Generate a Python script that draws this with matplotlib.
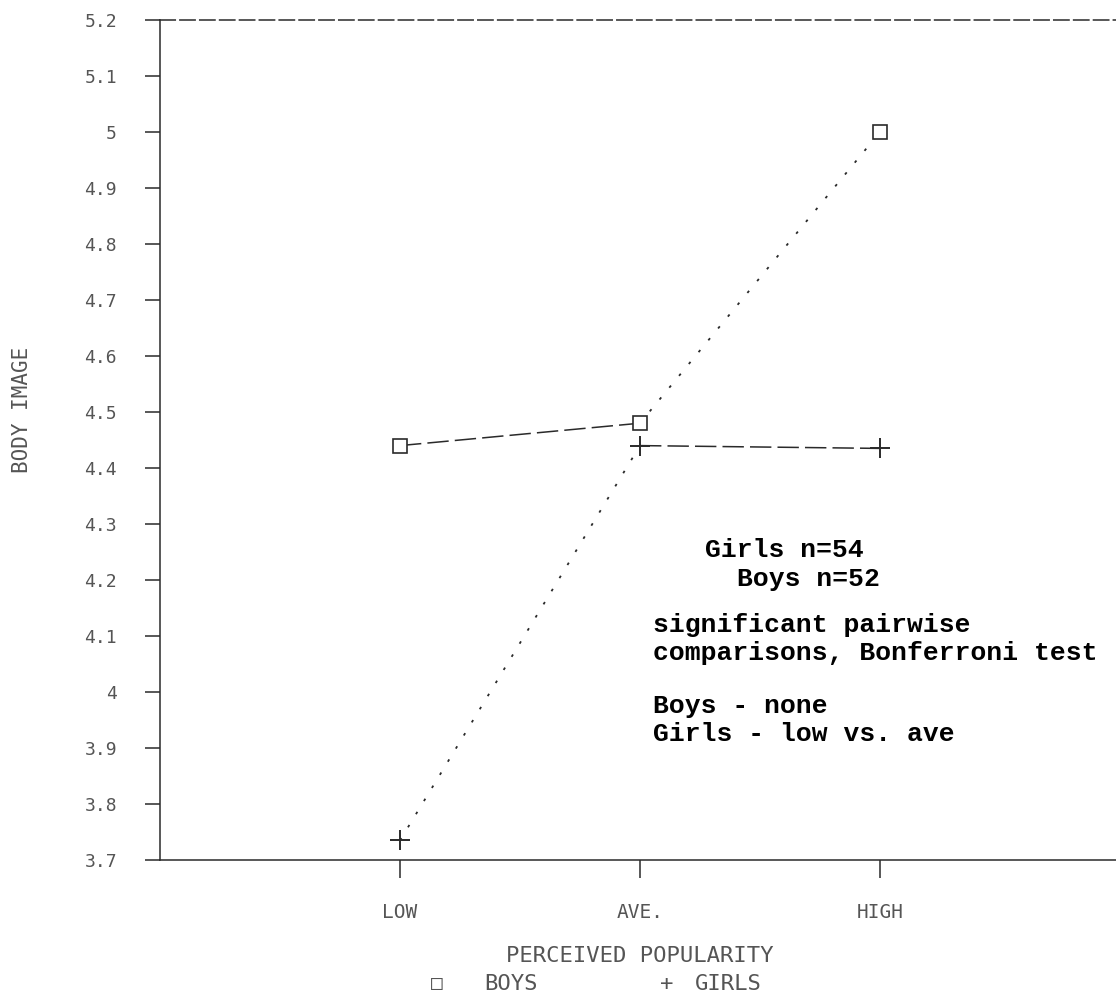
import matplotlib
matplotlib.use("Agg")
import matplotlib.pyplot as plt

categories = ["LOW", "AVE.", "HIGH"]
boys = [4.44, 4.48, 5.00]
girls = [3.735, 4.44, 4.435]
y_ticks = [3.7, 3.8, 3.9, 4.0, 4.1, 4.2, 4.3, 4.4, 4.5, 4.6, 4.7, 4.8, 4.9, 5.0, 5.1, 5.2]
y_labels = ["3.7", "3.8", "3.9", "4", "4.1", "4.2", "4.3", "4.4", "4.5", "4.6",
            "4.7", "4.8", "4.9", "5", "5.1", "5.2"]
notes = ["Girls n=54", "Boys n=52", "significant pairwise",
         "comparisons, Bonferroni test", "Boys - none", "Girls - low vs. ave"]

W, H = 1116, 1002
ink = "#2a2a2a"
faint = "#555555"
mono = "DejaVu Sans Mono"
courier = "Liberation Mono"

fig = plt.figure(figsize=(W / 100, H / 100), dpi=100)
ax = fig.add_axes([160 / W, 1 - 860 / H, (W - 160) / W, (860 - 20) / H])

xs = list(range(len(categories)))
dashed = (0, (14, 4))
dotted = (0, (1.5, 7))

# boys: dashed then dotted
ax.plot(xs[0:2], boys[0:2], color=ink, lw=1.1, linestyle=dashed)
ax.plot(xs[1:3], boys[1:3], color=ink, lw=1.3, linestyle=dotted)
# girls: dotted then dashed
ax.plot(xs[0:2], girls[0:2], color=ink, lw=1.3, linestyle=dotted)
ax.plot(xs[1:3], girls[1:3], color=ink, lw=1.1, linestyle=dashed)

ax.plot(xs, boys, linestyle="none", marker="s", markersize=10, markerfacecolor="white",
        markeredgecolor=ink, markeredgewidth=1.2)
ax.plot(xs, girls, linestyle="none", marker="+", markersize=14, color=ink,
        markeredgewidth=1.4)

ax.set_xlim(-1, (W - 400) / 240)
ax.set_ylim(3.7, 5.2)
ax.set_xticks(xs)
ax.set_xticklabels(categories, fontsize=14, family=mono, color=faint)
ax.set_yticks(y_ticks)
ax.set_yticklabels(y_labels, fontsize=13, family=mono, color=faint)
ax.tick_params(axis="y", direction="out", length=11, width=1.1, color=ink, pad=20)
ax.tick_params(axis="x", direction="out", length=13, width=1.1, color=ink, pad=18)

ax.spines["right"].set_visible(False)
ax.spines["top"].set_linestyle((0, (10, 3)))
for s in ["top", "bottom", "left"]:
    ax.spines[s].set_color(ink)
    ax.spines[s].set_linewidth(1.1)
ax.patch.set_alpha(0)

fig.text(22 / W, 1 - 410 / H, "BODY IMAGE", rotation=90, ha="center", va="center",
         fontsize=15, family=mono, color=faint)
fig.text(640 / W, 1 - 956 / H, "PERCEIVED POPULARITY", ha="center", va="center",
         fontsize=16, family=mono, color=faint)
fig.text(437 / W, 1 - 984 / H, "\u25a1", ha="center", va="center", fontsize=14,
         family=mono, color=faint)
fig.text(484 / W, 1 - 984 / H, "BOYS", ha="left", va="center", fontsize=16,
         family=mono, color=faint)
fig.text(667 / W, 1 - 984 / H, "+", ha="center", va="center", fontsize=16,
         family=mono, color=faint)
fig.text(695 / W, 1 - 984 / H, "GIRLS", ha="left", va="center", fontsize=16,
         family=mono, color=faint)

note_pos = [(705, 550), (737, 579), (653, 625), (653, 653), (653, 706), (653, 734)]
for txt, (px, py) in zip(notes, note_pos):
    fig.text(px / W, 1 - py / H, txt, ha="left", va="center", fontsize=19,
             family=courier, fontweight="bold", color="black")

fig.savefig("out.png", dpi=100)
